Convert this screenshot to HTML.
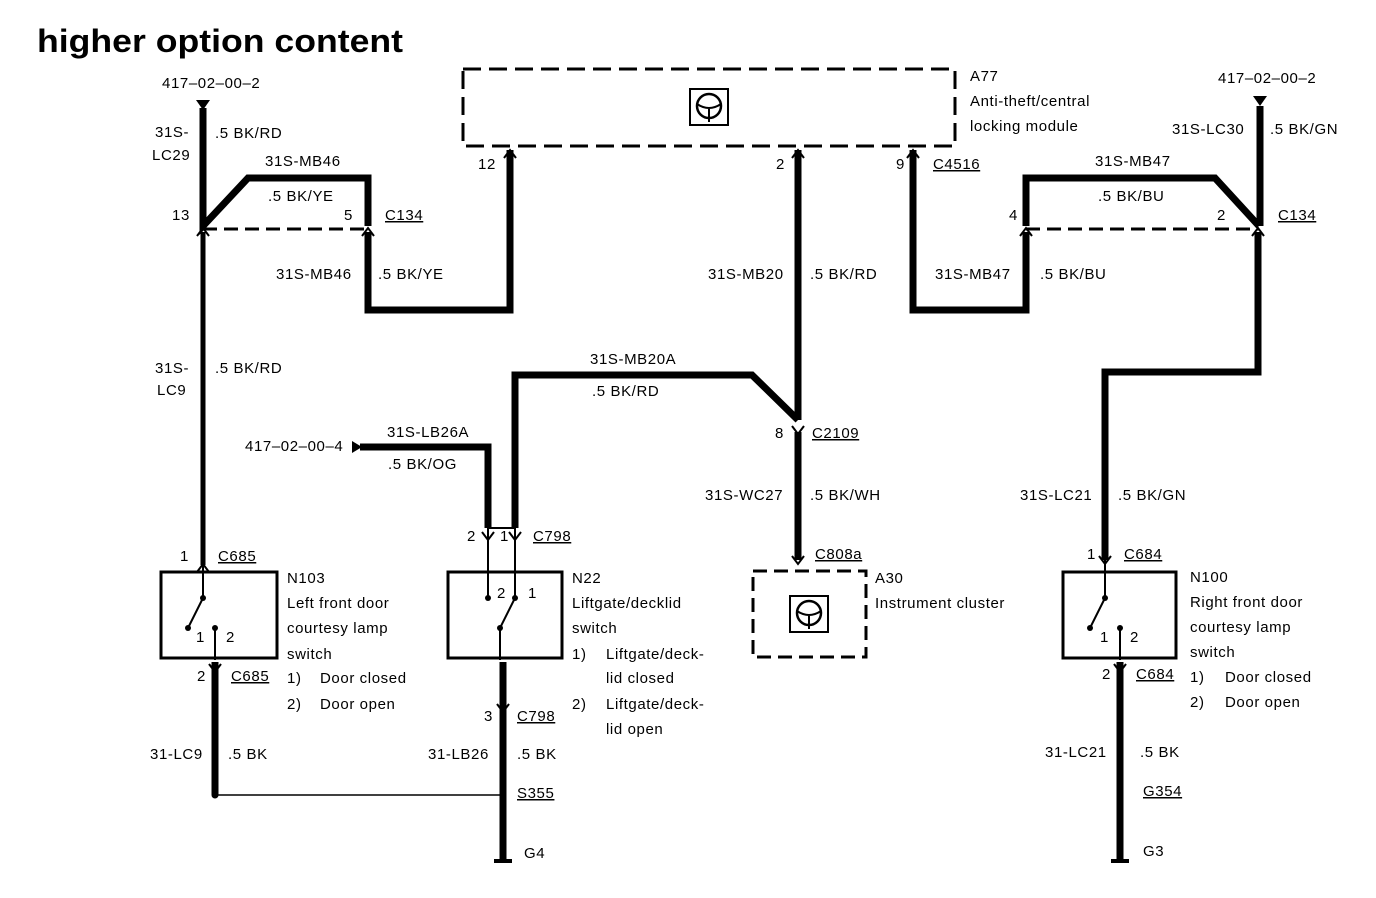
<!DOCTYPE html>
<html><head><meta charset="utf-8"><style>
html,body{margin:0;padding:0;background:#fff}
svg{display:block}
text{font-family:"Liberation Sans",sans-serif;font-size:15px;letter-spacing:0.6px;fill:#000}
.t{font-size:32px;font-weight:bold;letter-spacing:0}
.u{text-decoration:underline}
</style></head><body>
<svg width="1376" height="898" viewBox="0 0 1376 898" xmlns="http://www.w3.org/2000/svg">
<text x="37" y="52" class="t" textLength="366" lengthAdjust="spacingAndGlyphs">higher option content</text>
<g fill="none" stroke="#000" stroke-linejoin="miter">
<g stroke-width="7">
<path d="M203 108 V226 L248 178 H368 V226"/>
<path d="M368 232 V310 H510 V150"/>
<path d="M798 150 V420"/>
<path d="M913 150 V310 H1026 V232"/>
<path d="M1026 226 V178 H1215 L1259 226"/>
<path d="M1260 106 V226"/>
<path d="M1258 232 V372 H1105 V560"/>
<path d="M515 528 V375 H752 L798 420"/>
<path d="M798 432 V560"/>
<path d="M360 447 H488 V528"/>
<path d="M215 662 V795"/>
<path d="M503 662 V860"/>
<path d="M1120 662 V860"/>
</g>
<path d="M203 232 V565" stroke-width="5"/>
<path d="M203 229 H368" stroke-width="3" stroke-dasharray="14 7"/>
<path d="M1026 229 H1259" stroke-width="3" stroke-dasharray="14 7"/>
<rect x="463" y="69" width="492" height="77" stroke-width="3" stroke-dasharray="18 8"/>
<rect x="753" y="571" width="113" height="86" stroke-width="3" stroke-dasharray="14 7"/>
<rect x="161" y="572" width="116" height="86" stroke-width="3"/>
<rect x="448" y="572" width="114" height="86" stroke-width="3"/>
<rect x="1063" y="572" width="113" height="86" stroke-width="3"/>
<path d="M215 795 H503" stroke-width="1.5"/>
<g stroke-width="2">
<path d="M203 565 V598 M203 598 L188 628 M215 660 V628"/>
<path d="M488 528 V598 M515 528 V598 L500 628 V660"/>
<path d="M1105 560 V598 L1090 628 M1120 660 V628"/>
<path d="M488 528 H515"/>
</g>
<path d="M494 861 H512 M1111 861 H1129" stroke-width="4"/>
<rect x="690" y="89" width="38" height="36" stroke-width="2"/>
<circle cx="709" cy="106" r="12" stroke-width="2.5"/>
<path d="M697 104 Q709 112 721 104 M709 108 V122" stroke-width="2"/>
<rect x="790" y="596" width="38" height="36" stroke-width="2"/>
<circle cx="809" cy="613" r="12" stroke-width="2.5"/>
<path d="M797 611 Q809 619 821 611 M809 615 V629" stroke-width="2"/>
</g>
<g fill="#000">
<path d="M196 100 H210 L203 110Z"/>
<path d="M1253 96 H1267 L1260 106Z"/>
<path d="M352 441 V453 L362 447Z"/>
<circle cx="188" cy="628" r="3"/><circle cx="215" cy="628" r="3"/><circle cx="203" cy="598" r="3"/>
<circle cx="488" cy="598" r="3"/><circle cx="515" cy="598" r="3"/><circle cx="500" cy="628" r="3"/>
<circle cx="1090" cy="628" r="3"/><circle cx="1120" cy="628" r="3"/><circle cx="1105" cy="598" r="3"/>
<circle cx="215" cy="795" r="3.5"/><circle cx="503" cy="795" r="3.5"/>
</g>
<g fill="none" stroke="#000" stroke-width="2">
<path d="M197 236 L203 228 L209 236 M362 236 L368 228 L374 236"/>
<path d="M1020 236 L1026 228 L1032 236 M1252 236 L1258 228 L1264 236"/>
<path d="M504 158 L510 150 L516 158 M792 158 L798 150 L804 158 M907 158 L913 150 L919 158"/>
<path d="M792 426 L798 434 L804 426"/>
<path d="M197 572 L203 564 L209 572 M209 664 L215 672 L221 664"/>
<path d="M482 532 L488 540 L494 532 M509 532 L515 540 L521 532 M497 704 L503 712 L509 704"/>
<path d="M792 556 L798 564 L804 556"/>
<path d="M1099 556 L1105 564 L1111 556 M1114 664 L1120 672 L1126 664"/>
</g>
<text x="162" y="88">417–02–00–2</text>
<text x="155" y="137">31S-</text><text x="152" y="160">LC29</text>
<text x="215" y="138">.5 BK/RD</text>
<text x="265" y="166">31S-MB46</text>
<text x="268" y="201">.5 BK/YE</text>
<text x="172" y="220">13</text><text x="344" y="220">5</text>
<text x="385" y="220" class="u">C134</text>
<text x="276" y="279">31S-MB46</text><text x="378" y="279">.5 BK/YE</text>
<text x="155" y="373">31S-</text><text x="157" y="395">LC9</text>
<text x="215" y="373">.5 BK/RD</text>
<text x="970" y="81">A77</text>
<text x="970" y="106">Anti-theft/central</text>
<text x="970" y="131">locking module</text>
<text x="478" y="169">12</text><text x="776" y="169">2</text><text x="896" y="169">9</text>
<text x="933" y="169" class="u">C4516</text>
<text x="708" y="279">31S-MB20</text><text x="810" y="279">.5 BK/RD</text>
<text x="935" y="279">31S-MB47</text><text x="1040" y="279">.5 BK/BU</text>
<text x="1095" y="166">31S-MB47</text><text x="1098" y="201">.5 BK/BU</text>
<text x="1009" y="220">4</text><text x="1217" y="220">2</text>
<text x="1278" y="220" class="u">C134</text>
<text x="1218" y="83">417–02–00–2</text>
<text x="1172" y="134">31S-LC30</text><text x="1270" y="134">.5 BK/GN</text>
<text x="590" y="364">31S-MB20A</text><text x="592" y="396">.5 BK/RD</text>
<text x="775" y="438">8</text><text x="812" y="438" class="u">C2109</text>
<text x="245" y="451">417–02–00–4</text>
<text x="387" y="437">31S-LB26A</text><text x="388" y="469">.5 BK/OG</text>
<text x="705" y="500">31S-WC27</text><text x="810" y="500">.5 BK/WH</text>
<text x="1020" y="500">31S-LC21</text><text x="1118" y="500">.5 BK/GN</text>
<text x="180" y="561">1</text><text x="218" y="561" class="u">C685</text>
<text x="467" y="541">2</text><text x="500" y="541">1</text><text x="533" y="541" class="u">C798</text>
<text x="815" y="559" class="u">C808a</text>
<text x="1087" y="559">1</text><text x="1124" y="559" class="u">C684</text>
<text x="196" y="642">1</text><text x="226" y="642">2</text>
<text x="497" y="598">2</text><text x="528" y="598">1</text>
<text x="1100" y="642">1</text><text x="1130" y="642">2</text>
<text x="287" y="583">N103</text><text x="287" y="608">Left front door</text>
<text x="287" y="633">courtesy lamp</text><text x="287" y="659">switch</text>
<text x="287" y="683">1)</text><text x="320" y="683">Door closed</text>
<text x="287" y="709">2)</text><text x="320" y="709">Door open</text>
<text x="572" y="583">N22</text><text x="572" y="608">Liftgate/decklid</text>
<text x="572" y="633">switch</text>
<text x="572" y="659">1)</text><text x="606" y="659">Liftgate/deck-</text><text x="606" y="683">lid closed</text>
<text x="572" y="709">2)</text><text x="606" y="709">Liftgate/deck-</text><text x="606" y="734">lid open</text>
<text x="875" y="583">A30</text><text x="875" y="608">Instrument cluster</text>
<text x="1190" y="582">N100</text><text x="1190" y="607">Right front door</text>
<text x="1190" y="632">courtesy lamp</text><text x="1190" y="657">switch</text>
<text x="1190" y="682">1)</text><text x="1225" y="682">Door closed</text>
<text x="1190" y="707">2)</text><text x="1225" y="707">Door open</text>
<text x="197" y="681">2</text><text x="231" y="681" class="u">C685</text>
<text x="484" y="721">3</text><text x="517" y="721" class="u">C798</text>
<text x="1102" y="679">2</text><text x="1136" y="679" class="u">C684</text>
<text x="150" y="759">31-LC9</text><text x="228" y="759">.5 BK</text>
<text x="428" y="759">31-LB26</text><text x="517" y="759">.5 BK</text>
<text x="1045" y="757">31-LC21</text><text x="1140" y="757">.5 BK</text>
<text x="517" y="798" class="u">S355</text>
<text x="1143" y="796" class="u">G354</text>
<text x="524" y="858">G4</text><text x="1143" y="856">G3</text>
</svg>
</body></html>
